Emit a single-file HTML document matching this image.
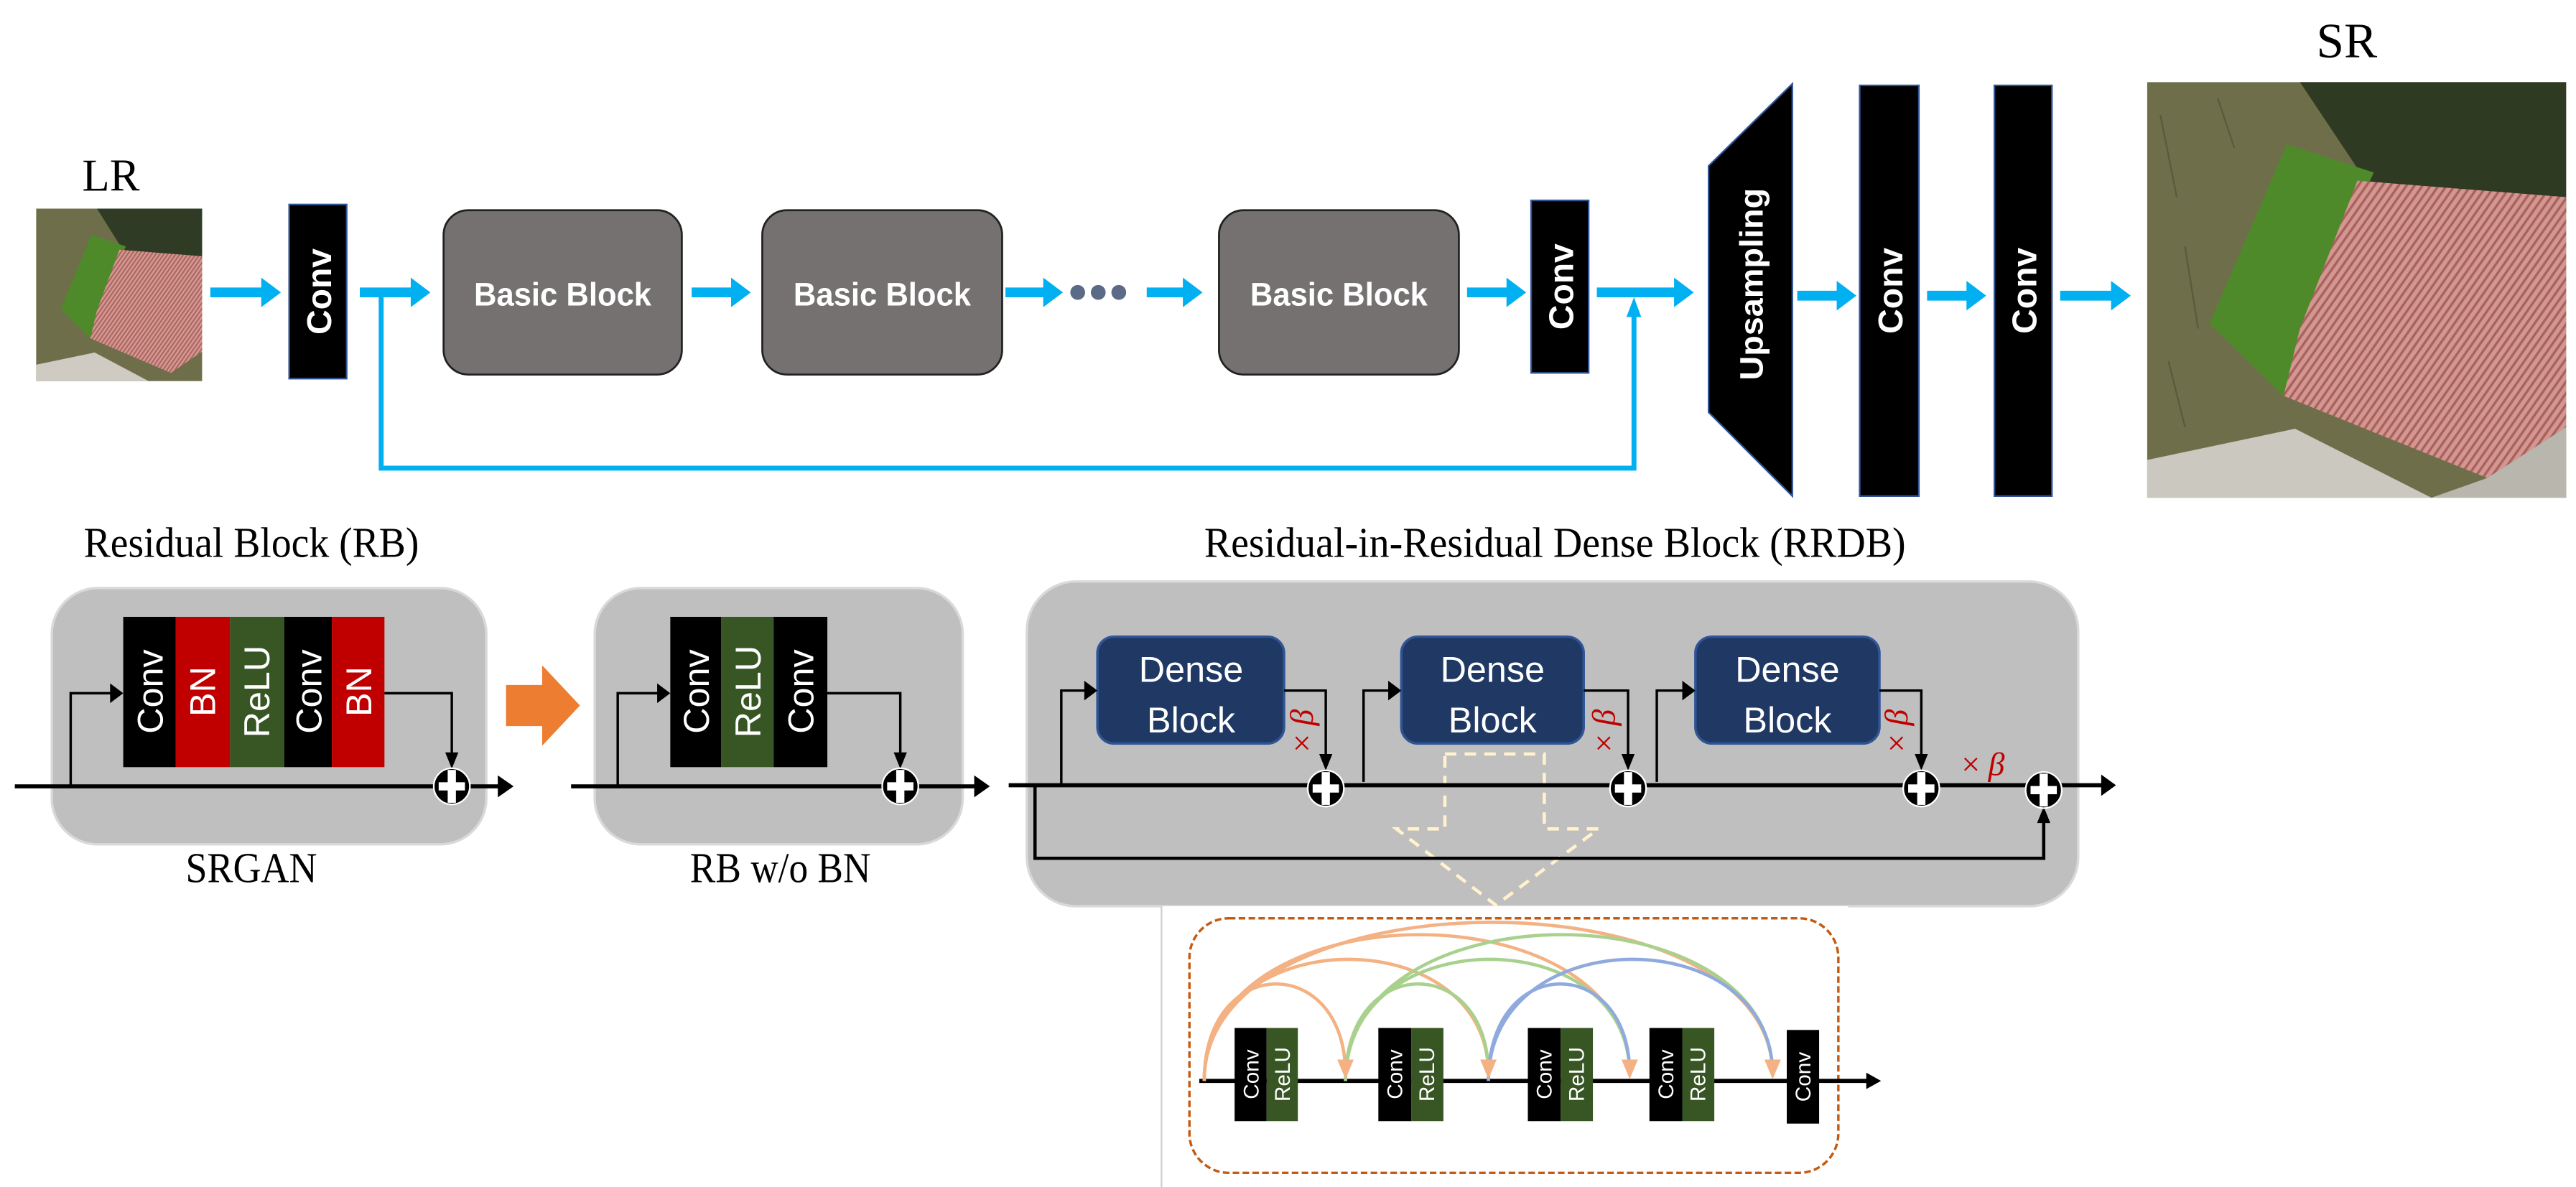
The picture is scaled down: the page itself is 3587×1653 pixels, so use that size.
<!DOCTYPE html>
<html><head><meta charset="utf-8"><style>html,body{margin:0;padding:0;background:#fff}svg{display:block}</style></head>
<body>
<svg xmlns="http://www.w3.org/2000/svg" width="3587" height="1653" viewBox="0 0 1568 722.6">
<defs>
<pattern id="tiles" width="4" height="4" patternUnits="userSpaceOnUse" patternTransform="rotate(35)">
<rect width="4" height="4" fill="#d39690"/><rect width="1.5" height="4" fill="#a9625d"/></pattern>
<pattern id="tiles2" width="2" height="2" patternUnits="userSpaceOnUse" patternTransform="rotate(35)">
<rect width="2" height="2" fill="#d39690"/><rect width="0.8" height="2" fill="#a9625d"/></pattern>
</defs>
<rect width="1568" height="722.6" fill="#fff"/>

<!-- LR image -->
<g>
<rect x="22" y="127" width="101" height="105" fill="#6e6f4a"/>
<polygon points="59,127 123,127 123,160 74.7,152" fill="#2f3b24"/>
<polygon points="55.7,143 76.6,150 59,189 55,206 37,188" fill="#4f8a2a"/>
<polygon points="72.7,152 123,156 123,214 104,227 55,206 59,189" fill="url(#tiles2)"/>
<polygon points="22,222 57.6,214.6 90.5,232 22,232" fill="#cfcbc2"/>
</g>
<text x="50" y="116" font-family="Liberation Serif" font-size="28" textLength="35" lengthAdjust="spacingAndGlyphs">LR</text>

<!-- SR image -->
<g>
<rect x="1307" y="50" width="255" height="253" fill="#6e6f4a"/>
<polygon points="1400,50 1562,50 1562,130 1440,110" fill="#2e3a22"/>
<polygon points="1392,88 1445,105 1400,200 1390,241 1345,197" fill="#4f8a2a"/>
<polygon points="1435,110 1562,120 1562,260 1514,291 1390,241 1400,200" fill="url(#tiles)"/>
<polygon points="1307,280 1397,261 1480,303 1307,303" fill="#cbc8bf"/>
<polygon points="1514,291 1562,260 1562,303 1480,303" fill="#b9b6ad"/>
<g stroke="#4a4f30" stroke-width="1" opacity="0.6">
<line x1="1315" y1="70" x2="1325" y2="120"/><line x1="1330" y1="150" x2="1338" y2="200"/>
<line x1="1320" y1="220" x2="1330" y2="260"/><line x1="1350" y1="60" x2="1360" y2="90"/>
</g>
</g>
<text x="1410" y="35" font-family="Liberation Serif" font-size="30" textLength="37" lengthAdjust="spacingAndGlyphs">SR</text>

<!-- Blue arrows -->
<g fill="#00b0f0">
<path d="M128,175 H159 V169 L171,178 L159,187 V181 H128Z"/>
<path d="M219,175 H250 V169 L262,178 L250,187 V181 H219Z"/>
<path d="M421,175 H445 V169 L457,178 L445,187 V181 H421Z"/>
<path d="M612,175 H635 V169 L647,178 L635,187 V181 H612Z"/>
<path d="M698,175 H720 V169 L732,178 L720,187 V181 H698Z"/>
<path d="M893,175 H917 V169 L929,178 L917,187 V181 H893Z"/>
<path d="M972,175 H1019 V169 L1031,178 L1019,187 V181 H972Z"/>
<path d="M1094,177 H1118 V171 L1130,180 L1118,189 V183 H1094Z"/>
<path d="M1173,177 H1197 V171 L1209,180 L1197,189 V183 H1173Z"/>
<path d="M1254,177 H1285 V171 L1297,180 L1285,189 V183 H1254Z"/>
<polygon points="994.6,181 990,193 999,193"/>
</g>
<path d="M232,178 V285 H994.6 V192" fill="none" stroke="#00b0f0" stroke-width="3"/>
<g fill="#5b6a86"><circle cx="656" cy="178" r="4.5"/><circle cx="668.5" cy="178" r="4.5"/><circle cx="681" cy="178" r="4.5"/></g>

<!-- Conv bars top -->
<g fill="#000" stroke="#2f5597" stroke-width="1">
<rect x="176" y="124.5" width="35" height="106"/>
<rect x="932" y="122" width="35" height="105"/>
<rect x="1132" y="52" width="36" height="250"/>
<rect x="1214" y="52" width="35" height="250"/>
<polygon points="1091,51 1091,302 1040,251 1040,101"/>
</g>
<g fill="#fff" font-family="Liberation Sans" font-weight="bold" text-anchor="middle">
<text transform="translate(201.5,177.5) rotate(-90)" font-size="21">Conv</text>
<text transform="translate(957.5,174.5) rotate(-90)" font-size="21">Conv</text>
<text transform="translate(1158,177) rotate(-90)" font-size="21">Conv</text>
<text transform="translate(1239.5,177) rotate(-90)" font-size="21">Conv</text>
<text transform="translate(1073,173) rotate(-90)" font-size="20" textLength="117" lengthAdjust="spacingAndGlyphs">Upsampling</text>
</g>

<!-- Basic blocks -->
<g fill="#757171" stroke="#222" stroke-width="1.2">
<rect x="270" y="128" width="145" height="100" rx="15"/>
<rect x="464" y="128" width="146" height="100" rx="15"/>
<rect x="742" y="128" width="146" height="100" rx="15"/>
</g>
<g fill="#fff" font-family="Liberation Sans" font-weight="bold" font-size="20" text-anchor="middle">
<text x="342.5" y="186" textLength="108" lengthAdjust="spacingAndGlyphs">Basic Block</text>
<text x="537" y="186" textLength="108" lengthAdjust="spacingAndGlyphs">Basic Block</text>
<text x="815" y="186" textLength="108" lengthAdjust="spacingAndGlyphs">Basic Block</text>
</g>

<!-- Titles -->
<g font-family="Liberation Serif" font-size="26">
<text x="51" y="339" textLength="204" lengthAdjust="spacingAndGlyphs">Residual Block (RB)</text>
<text x="733" y="339" textLength="427" lengthAdjust="spacingAndGlyphs">Residual-in-Residual Dense Block (RRDB)</text>
<text x="113" y="537" textLength="80" lengthAdjust="spacingAndGlyphs">SRGAN</text>
<text x="420" y="537" textLength="110" lengthAdjust="spacingAndGlyphs">RB w/o BN</text>
</g>

<!-- RB boxes -->
<g fill="#bfbfbf" stroke="#d9d9d9" stroke-width="1.5">
<rect x="31.5" y="358" width="264.5" height="156" rx="28"/>
<rect x="362" y="358" width="224" height="156" rx="28"/>
<rect x="625" y="354" width="640" height="197.7" rx="30"/>
</g>
<rect x="75" y="375.5" width="32" height="91.5" fill="#000"/>
<rect x="107" y="375.5" width="33" height="91.5" fill="#c00000"/>
<rect x="140" y="375.5" width="33" height="91.5" fill="#375623"/>
<rect x="173" y="375.5" width="29" height="91.5" fill="#000"/>
<rect x="202" y="375.5" width="32" height="91.5" fill="#c00000"/>
<rect x="408" y="375.5" width="31" height="91.5" fill="#000"/>
<rect x="439" y="375.5" width="32" height="91.5" fill="#375623"/>
<rect x="471" y="375.5" width="32.6" height="91.5" fill="#000"/>
<g fill="#fff" font-family="Liberation Sans" font-size="22" text-anchor="middle">
<text transform="translate(99,421) rotate(-90)">Conv</text>
<text transform="translate(131,421) rotate(-90)">BN</text>
<text transform="translate(164,421) rotate(-90)">ReLU</text>
<text transform="translate(195.5,421) rotate(-90)">Conv</text>
<text transform="translate(226,421) rotate(-90)">BN</text>
<text transform="translate(431.5,421) rotate(-90)">Conv</text>
<text transform="translate(463,421) rotate(-90)">ReLU</text>
<text transform="translate(495,421) rotate(-90)">Conv</text>
</g>

<g fill="none" stroke="#000">
<path d="M9,478.7 H305" stroke-width="2.5"/>
<path d="M43,478.7 V422 H68" stroke-width="1.5"/>
<path d="M234,422 H275 V461" stroke-width="1.5"/>
<path d="M347.6,478.7 H595" stroke-width="2.5"/>
<path d="M376,478.7 V422 H401" stroke-width="1.5"/>
<path d="M503.6,422 H548 V461" stroke-width="1.5"/>
</g>
<g fill="#000">
<polygon points="312.6,478.7 303,472 303,485.4"/>
<polygon points="75,422 67,416 67,428"/>
<polygon points="275,468 271,458 279,458"/>
<polygon points="602.5,478.7 593,472 593,485.4"/>
<polygon points="408,422 400,416 400,428"/>
<polygon points="548,468 544,458 552,458"/>
</g>

<polygon points="308,417 330,417 330,405 353,429.5 330,454 330,442 308,442" fill="#ed7d31"/>

<g fill="#1f3864" stroke="#2f5597" stroke-width="1.5">
<rect x="668" y="387.6" width="113.6" height="65" rx="10"/>
<rect x="853" y="387.6" width="111" height="65" rx="10"/>
<rect x="1032" y="387.6" width="112" height="65" rx="10"/>
</g>
<g fill="#fff" font-family="Liberation Sans" font-size="22" text-anchor="middle">
<text x="725" y="415">Dense</text><text x="725" y="446">Block</text>
<text x="908.5" y="415">Dense</text><text x="908.5" y="446">Block</text>
<text x="1088" y="415">Dense</text><text x="1088" y="446">Block</text>
</g>

<polygon points="879.5,459 940,459 940,504.6 973,504.6 910.5,551 850,504.6 879.5,504.6" fill="none" stroke="#fff2cc" stroke-width="2" stroke-dasharray="7,5"/>

<g fill="none" stroke="#000">
<path d="M614,478 H1280" stroke-width="2.5"/>
<path d="M646,478 V420.4 H661" stroke-width="1.5"/>
<path d="M781.6,420.4 H807 V463" stroke-width="1.5"/>
<path d="M830,476 V420.4 H846" stroke-width="1.5"/>
<path d="M964,420.4 H991 V463" stroke-width="1.5"/>
<path d="M1008.5,476 V420.4 H1025" stroke-width="1.5"/>
<path d="M1144,420.4 H1169.5 V463" stroke-width="1.5"/>
<path d="M630,478 V522.5 H1244 V498" stroke-width="2"/>
</g>
<g fill="#000">
<polygon points="668,420.4 660,414.4 660,426.4"/>
<polygon points="853,420.4 845,414.4 845,426.4"/>
<polygon points="1032,420.4 1024,414.4 1024,426.4"/>
<polygon points="807,469 803,459 811,459"/>
<polygon points="991,469 987,459 995,459"/>
<polygon points="1169.5,469 1165.5,459 1173.5,459"/>
<polygon points="1244,491 1240,501 1248,501"/>
<polygon points="1288,478 1279,471.5 1279,484.5"/>
</g>

<g>
<g transform="translate(275,478.7)"><circle r="11" fill="#000" stroke="#fff" stroke-width="1"/><rect x="-8" y="-2.5" width="16" height="5" fill="#fff"/><rect x="-2.5" y="-10" width="5" height="20" fill="#fff"/></g>
<g transform="translate(548,478.7)"><circle r="11" fill="#000" stroke="#fff" stroke-width="1"/><rect x="-8" y="-2.5" width="16" height="5" fill="#fff"/><rect x="-2.5" y="-10" width="5" height="20" fill="#fff"/></g>
<g transform="translate(807,480)"><circle r="11" fill="#000" stroke="#fff" stroke-width="1"/><rect x="-8" y="-2.5" width="16" height="5" fill="#fff"/><rect x="-2.5" y="-10" width="5" height="20" fill="#fff"/></g>
<g transform="translate(991,480)"><circle r="11" fill="#000" stroke="#fff" stroke-width="1"/><rect x="-8" y="-2.5" width="16" height="5" fill="#fff"/><rect x="-2.5" y="-10" width="5" height="20" fill="#fff"/></g>
<g transform="translate(1169.5,480)"><circle r="11" fill="#000" stroke="#fff" stroke-width="1"/><rect x="-8" y="-2.5" width="16" height="5" fill="#fff"/><rect x="-2.5" y="-10" width="5" height="20" fill="#fff"/></g>
<g transform="translate(1244,481)"><circle r="11" fill="#000" stroke="#fff" stroke-width="1"/><rect x="-8" y="-2.5" width="16" height="5" fill="#fff"/><rect x="-2.5" y="-10" width="5" height="20" fill="#fff"/></g>
</g>

<g fill="#c00000" font-family="Liberation Serif" font-size="20">
<text transform="translate(799,458) rotate(-90)">× <tspan font-style="italic">β</tspan></text>
<text transform="translate(983,458) rotate(-90)">× <tspan font-style="italic">β</tspan></text>
<text transform="translate(1161,458) rotate(-90)">× <tspan font-style="italic">β</tspan></text>
<text x="1194" y="472">× <tspan font-style="italic">β</tspan></text>
</g>

<rect x="707" y="551.7" width="418" height="171" fill="#fff"/>
<line x1="707" y1="551.7" x2="707" y2="722.6" stroke="#d0d0d0" stroke-width="1"/>
<rect x="724" y="559" width="395" height="155" rx="24" fill="none" stroke="#c55a11" stroke-width="1.5" stroke-dasharray="4,2"/>
<path d="M730,658 H1138" stroke="#000" stroke-width="2.5"/>
<polygon points="1145,658 1136,653 1136,663" fill="#000"/>
<g fill="none" stroke-width="2">
<path d="M733,658 C733,580 819,580 819,654" stroke="#f4b183"/>
<path d="M733,658 C733,560 906,560 906,654" stroke="#f4b183"/>
<path d="M733,658 C733,540 992,540 992,654" stroke="#f4b183"/>
<path d="M733,658 C733,530 1079,530 1079,654" stroke="#f4b183"/>
<path d="M819,658 C819,580 906,580 906,654" stroke="#a9d18e"/>
<path d="M819,658 C819,560 992,560 992,654" stroke="#a9d18e"/>
<path d="M819,658 C819,540 1079,540 1079,654" stroke="#a9d18e"/>
<path d="M906,658 C906,580 992,580 992,654" stroke="#8faadc"/>
<path d="M906,658 C906,560 1079,560 1079,654" stroke="#8faadc"/>
</g>
<g fill="#f4b183">
<polygon points="819,657 814,645 824,645"/>
<polygon points="906,657 901,645 911,645"/>
<polygon points="992,657 987,645 997,645"/>
<polygon points="1079,657 1074,645 1084,645"/>
</g>
<g>
<rect x="751.5" y="625.8" width="19.5" height="56.7" fill="#000"/><rect x="771" y="625.8" width="19" height="56.7" fill="#375623"/>
<rect x="839" y="625.8" width="20" height="56.7" fill="#000"/><rect x="859" y="625.8" width="19.6" height="56.7" fill="#375623"/>
<rect x="930" y="625.8" width="20" height="56.7" fill="#000"/><rect x="950" y="625.8" width="19.6" height="56.7" fill="#375623"/>
<rect x="1004" y="625.8" width="20" height="56.7" fill="#000"/><rect x="1024" y="625.8" width="19.5" height="56.7" fill="#375623"/>
<rect x="1087.6" y="627" width="19.7" height="57" fill="#000"/>
</g>
<g fill="#fff" font-family="Liberation Sans" font-size="13" text-anchor="middle">
<text transform="translate(766,654) rotate(-90)">Conv</text><text transform="translate(785,654) rotate(-90)">ReLU</text>
<text transform="translate(853.5,654) rotate(-90)">Conv</text><text transform="translate(873,654) rotate(-90)">ReLU</text>
<text transform="translate(944.5,654) rotate(-90)">Conv</text><text transform="translate(964,654) rotate(-90)">ReLU</text>
<text transform="translate(1018.5,654) rotate(-90)">Conv</text><text transform="translate(1038,654) rotate(-90)">ReLU</text>
<text transform="translate(1102,655.5) rotate(-90)">Conv</text>
</g>
</svg>
</body></html>
